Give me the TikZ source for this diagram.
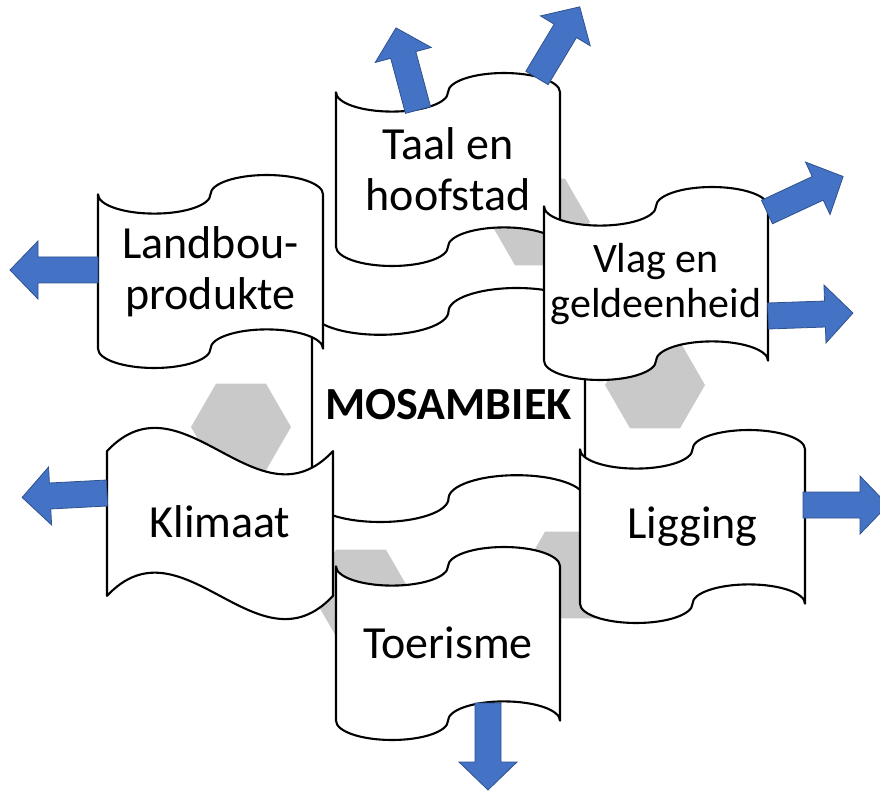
\documentclass[tikz,border=0pt]{standalone}
\usepackage{fontspec}
\setmainfont{Carlito}
\usepackage{tikz}
\definecolor{hexgrey}{HTML}{C9C9C9}
\definecolor{arrowblue}{HTML}{4472C4}
\definecolor{arrowedge}{HTML}{2F528F}
\tikzstyle{banner}=[draw=black, fill=white, line width=2.1pt, line join=round]
\tikzstyle{hexa}=[fill=hexgrey]
\tikzstyle{blockarrow}=[fill=arrowblue, draw=arrowedge, line width=0.8pt, line join=miter]
\tikzstyle{lbl}=[font=\fontsize{46}{51}\selectfont, align=center, inner sep=0pt]
\tikzstyle{lblsmall}=[font=\fontsize{42}{45}\selectfont, align=center, inner sep=0pt]

% punched tape banner: left, top, width, height
\newcommand{\tape}[4]{%
  \pgfmathsetmacro{\radx}{#3/4}\pgfmathsetmacro{\rady}{#4/10}%
  \draw[banner] (#1,{#2+\rady})
    arc[start angle=180, end angle=360, x radius=\radx pt, y radius=\rady pt]
    arc[start angle=180, end angle=0, x radius=\radx pt, y radius=\rady pt]
    -- ({#1+#3},{#2+#4-\rady})
    arc[start angle=0, end angle=180, x radius=\radx pt, y radius=\rady pt]
    arc[start angle=0, end angle=-180, x radius=\radx pt, y radius=\rady pt]
    -- cycle;}
% wave banner: left, top, width, height
\newcommand{\wave}[4]{%
  \pgfmathsetmacro{\wavd}{#4/8}\pgfmathsetmacro{\wavk}{#4/8*10/3}%
  \draw[banner] (#1,{#2+\wavd})
    .. controls ({#1+#3/3},{#2+\wavd-\wavk}) and ({#1+2*#3/3},{#2+\wavd+\wavk}) .. ({#1+#3},{#2+\wavd})
    -- ({#1+#3},{#2+#4-\wavd})
    .. controls ({#1+2*#3/3},{#2+#4-\wavd+\wavk}) and ({#1+#3/3},{#2+#4-\wavd-\wavk}) .. (#1,{#2+#4-\wavd})
    -- cycle;}
\newcommand{\hexa}[2]{%
  \fill[hexa, shift={(#1,#2)}] (0:50pt) -- (60:50pt) -- (120:50pt) -- (180:50pt) -- (240:50pt) -- (300:50pt) -- cycle;}
% block arrow: base x, base y, angle, length
\newcommand{\outarrow}[4]{%
  \draw[blockarrow, shift={(#1,#2)}, rotate=#3] (0,-13) -- ({#4-28},-13) -- ({#4-28},-29) -- (#4,0)
    -- ({#4-28},29) -- ({#4-28},13) -- (0,13) -- cycle;}

\begin{document}
\begin{tikzpicture}[x=1pt,y=-1pt]
    \useasboundingbox (0,0) rectangle (880,791);
    \hexa{540}{222}
    \hexa{655}{385}
    \hexa{570}{575}
    \hexa{361}{593}
    \hexa{241}{427}

    \tape{312}{288}{273}{234}
    \tape{336}{73}{224}{193}
    \tape{544}{187}{224}{193}
    \tape{98}{175}{225}{193}
    \wave{107}{427}{226}{193}
    \tape{580}{430}{225}{193}
    \tape{336}{547}{224}{193}

    \node[lbl, font=\fontsize{46}{51}\selectfont\bfseries] (land) at (448.5,405) {MOSAMBIEK};
    \node[lbl] (taal) at (448,169) {Taal en\\hoofstad};
    \node[lblsmall] (vlag) at (656,284) {Vlag en\\geldeenheid};
    \node[lbl] (landbou) at (210.5,272) {Landbou-\\produkte};
    \node[lbl] (klimaat) at (220,522) {Klimaat};
    \node[lbl] (ligging) at (692.5,527) {Ligging};
    \node[lbl] (toerisme) at (448,643) {Toerisme};

    \outarrow{418}{110}{105}{85}
    \outarrow{537}{78}{59}{83}
    \outarrow{767}{212}{25}{84}
    \outarrow{768}{316}{2}{85}
    \outarrow{98}{270}{180}{88}
    \outarrow{107}{493}{183}{85}
    \outarrow{803}{505}{0}{85}
    \outarrow{488}{703}{270}{87}
\end{tikzpicture}
\end{document}
